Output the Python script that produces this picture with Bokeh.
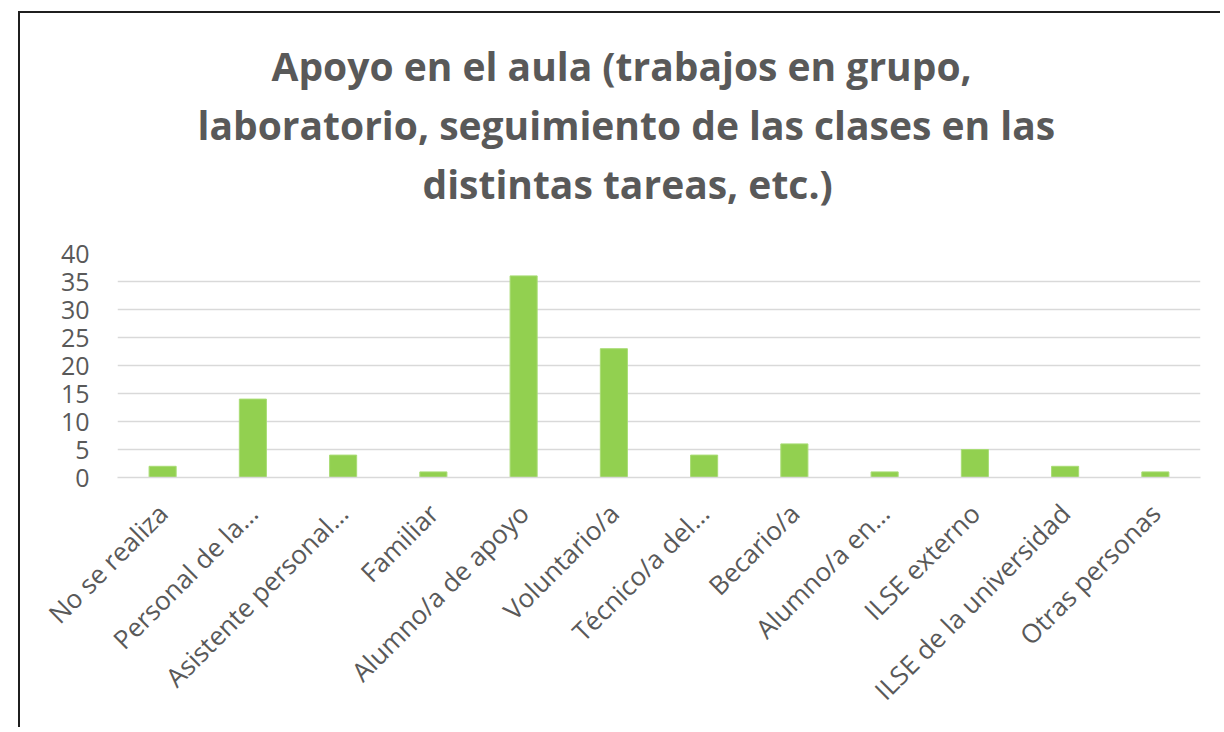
from bokeh.plotting import figure
from bokeh.models import FixedTicker, Title
from bokeh.embed import file_html
from bokeh.resources import INLINE

categories = ["No se realiza", "Personal de la...", "Asistente personal...", "Familiar",
              "Alumno/a de apoyo", "Voluntario/a", "Técnico/a del...", "Becario/a",
              "Alumno/a en...", "ILSE externo", "ILSE de la universidad", "Otras personas"]
counts = [2, 14, 4, 1, 36, 23, 4, 6, 1, 5, 2, 1]
y_ticks = [0, 5, 10, 15, 20, 25, 30, 35, 40]
title_lines = ["Apoyo en el aula (trabajos en grupo,",
               "laboratorio, seguimiento de las clases en las",
               "distintas tareas, etc.)"]
title_offsets = [154, 80, 305]   # left indents that centre each line on the chart box

GREY = "#595959"
FONT = "Open Sans"

p = figure(x_range=categories, y_range=(0, 40), width=1202, height=716,
           output_backend="svg", toolbar_location=None,
           min_border_left=97, min_border_right=22, min_border_top=240, min_border_bottom=252,
           background_fill_color="white", border_fill_color="white", outline_line_color=None)
p.margin = (11, 0, 0, 18)
p.styles = {"border-left": "2px solid #1f1f1f", "border-top": "2px solid #1f1f1f"}

p.vbar(x=categories, top=counts, width=0.3, fill_color="#92D050", line_color="#A9DC75", line_width=1)

# spacer between title block and plot area
p.add_layout(Title(text=" ", text_font_size="1px", standoff=39), "above")
for line, off in reversed(list(zip(title_lines, title_offsets))):
    t = Title(text=line, align="left", offset=off, text_font=FONT, text_font_style="bold",
              text_font_size="39px", text_color=GREY, standoff=4)
    p.add_layout(t, "above")

p.xgrid.grid_line_color = None
p.ygrid.grid_line_color = "#d9d9d9"
p.ygrid.grid_line_width = 1.5
p.yaxis.ticker = FixedTicker(ticks=y_ticks)
p.yaxis.axis_line_color = None
p.yaxis.major_tick_line_color = None
p.yaxis.minor_tick_line_color = None
p.yaxis.major_label_text_font = FONT
p.yaxis.major_label_text_font_size = "25px"
p.yaxis.major_label_text_color = GREY
p.yaxis.major_label_standoff = 22

p.xaxis.axis_line_color = "#d9d9d9"
p.xaxis.axis_line_width = 1.5
p.xaxis.major_tick_line_color = None
p.xaxis.minor_tick_line_color = None
p.xaxis.major_label_orientation = 0.7854
p.xaxis.major_label_text_font = FONT
p.xaxis.major_label_text_font_size = "26px"
p.xaxis.major_label_text_color = GREY
p.xaxis.major_label_standoff = 25
p.x_range.range_padding = 0

open("out.html", "w").write(file_html(p, INLINE))
